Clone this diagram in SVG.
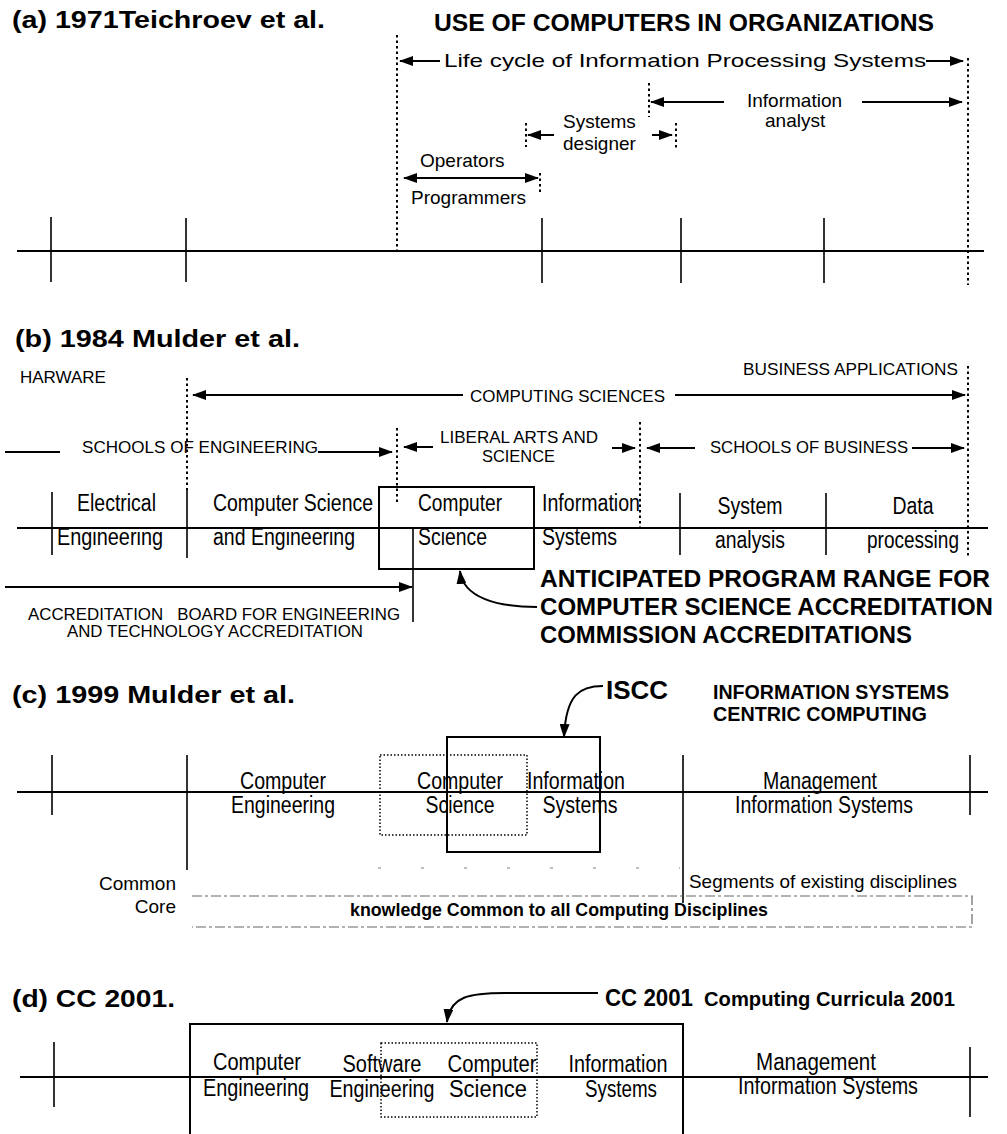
<svg xmlns="http://www.w3.org/2000/svg" width="1007" height="1134" viewBox="0 0 1007 1134">
<defs>
<marker id="ah" markerUnits="userSpaceOnUse" markerWidth="14" markerHeight="10" refX="13" refY="5" orient="auto-start-reverse"><path d="M0,0 L14,5 L0,10 z" fill="#000"/></marker>
<style>
.ttl{font-family:"Liberation Sans",Arial,sans-serif;font-weight:bold;font-size:24px;fill:#000}
.hd{font-family:"Liberation Sans",Arial,sans-serif;font-weight:bold;fill:#000}
.la{font-family:"Liberation Sans",Arial,sans-serif;font-size:19px;fill:#000}
.cp{font-family:"Liberation Sans",Arial,sans-serif;font-size:17px;fill:#000}
.lb{font-family:"Liberation Sans Narrow","Liberation Sans",Arial,sans-serif;font-size:23px;fill:#000}
.c{text-anchor:middle}
.r{text-anchor:end}
.ax{stroke:#000;stroke-width:2;fill:none}
.tk{stroke:#000;stroke-width:1.6;fill:none}
.dt{stroke:#000;stroke-width:2;stroke-dasharray:2.5 3;fill:none}
.db{stroke:#000;stroke-width:1.5;stroke-dasharray:1.5 2;fill:none}
.ar{stroke:#000;stroke-width:2;fill:none}
.bx{stroke:#000;stroke-width:2;fill:none}
.dsh{stroke:#666;stroke-width:1.2;stroke-dasharray:10 3 3 3;fill:none}
.fnt{stroke:#aaa;stroke-width:1.5;stroke-dasharray:3 40;fill:none}
</style>
</defs>
<rect width="1007" height="1134" fill="#fff"/>

<!-- ===== (a) ===== -->
<g id="sec-a">
<text class="ttl" x="12" y="28" textLength="313" lengthAdjust="spacingAndGlyphs">(a) 1971Teichroev et al.</text>
<text class="hd" x="434" y="31" font-size="23" textLength="500" lengthAdjust="spacingAndGlyphs">USE OF COMPUTERS IN ORGANIZATIONS</text>
<g id="a-axis">
<line class="ax" x1="17" y1="251" x2="984" y2="251"/>
<line class="tk" x1="51" y1="217" x2="51" y2="282"/>
<line class="tk" x1="186" y1="218" x2="186" y2="282"/>
<line class="tk" x1="542" y1="218" x2="542" y2="283"/>
<line class="tk" x1="681" y1="218" x2="681" y2="283"/>
<line class="tk" x1="824" y1="218" x2="824" y2="283"/>
<line class="dt" x1="397" y1="35" x2="397" y2="251"/>
<line class="dt" x1="968" y1="58" x2="968" y2="285"/>
</g>
<g id="a-lifecycle"><text class="la" x="444" y="67" font-size="21" textLength="482" lengthAdjust="spacingAndGlyphs">Life cycle of Information Processing Systems</text></g>
<g id="a-analyst"><text class="la" x="747" y="107">Information</text><text class="la" x="765" y="127">analyst</text>
<line class="dt" x1="649" y1="83" x2="649" y2="117"/></g>
<g id="a-designer"><text class="la" x="563" y="128">Systems</text><text class="la" x="563" y="150">designer</text>
<line class="dt" x1="526" y1="123" x2="526" y2="147"/><line class="dt" x1="676" y1="123" x2="676" y2="148"/></g>
<g id="a-operators"><text class="la" x="420" y="167">Operators</text><text class="la" x="411" y="204">Programmers</text>
<line class="dt" x1="540" y1="173" x2="540" y2="195"/></g>
</g>

<!-- ===== (b) ===== -->
<g id="sec-b">
<text class="ttl" x="15" y="347" textLength="285" lengthAdjust="spacingAndGlyphs">(b) 1984 Mulder et al.</text>
<text class="cp" x="20" y="383" font-size="16">HARWARE</text>
<text class="cp" x="743" y="375" textLength="215" lengthAdjust="spacingAndGlyphs">BUSINESS APPLICATIONS</text>
<g id="b-computing"><text class="cp" x="470" y="402" textLength="195" lengthAdjust="spacingAndGlyphs">COMPUTING SCIENCES</text></g>
<g id="b-eng"><text class="cp" x="82" y="453" textLength="236" lengthAdjust="spacingAndGlyphs">SCHOOLS OF ENGINEERING</text></g>
<g id="b-liberal"><text class="cp" x="440" y="443" textLength="158" lengthAdjust="spacingAndGlyphs">LIBERAL ARTS AND</text><text class="cp" x="482" y="462" textLength="73" lengthAdjust="spacingAndGlyphs">SCIENCE</text></g>
<g id="b-business"><text class="cp" x="710" y="453" textLength="198" lengthAdjust="spacingAndGlyphs">SCHOOLS OF BUSINESS</text></g>
<g id="b-axis">
<line class="ax" x1="17" y1="528" x2="988" y2="528"/>
<line class="tk" x1="52" y1="492" x2="52" y2="555"/>
<line class="tk" x1="187" y1="490" x2="187" y2="558"/>
<line class="tk" x1="680" y1="493" x2="680" y2="555"/>
<line class="tk" x1="826" y1="493" x2="826" y2="555"/>
<line class="dt" x1="187" y1="378" x2="187" y2="490"/>
<line class="dt" x1="397" y1="428" x2="397" y2="505"/>
<line class="dt" x1="640" y1="422" x2="640" y2="527"/>
<line class="dt" x1="968" y1="366" x2="968" y2="556"/>
</g>
<g id="b-ee"><text class="lb" x="77" y="511" textLength="79" lengthAdjust="spacingAndGlyphs">Electrical</text><text class="lb" x="57" y="545" textLength="106" lengthAdjust="spacingAndGlyphs">Engineering</text></g>
<g id="b-cse"><text class="lb" x="213" y="511" textLength="160" lengthAdjust="spacingAndGlyphs">Computer Science</text><text class="lb" x="213" y="545" textLength="142" lengthAdjust="spacingAndGlyphs">and Engineering</text></g>
<g id="b-cs"><rect class="bx" x="379" y="487" width="155" height="82"/><text class="lb" x="418" y="511" textLength="84" lengthAdjust="spacingAndGlyphs">Computer</text><text class="lb" x="418" y="545" textLength="69" lengthAdjust="spacingAndGlyphs">Science</text></g>
<g id="b-is"><text class="lb" x="542" y="511" textLength="98" lengthAdjust="spacingAndGlyphs">Information</text><text class="lb" x="542" y="545" textLength="75" lengthAdjust="spacingAndGlyphs">Systems</text></g>
<g id="b-sa"><text class="lb c" x="750" y="514" textLength="65" lengthAdjust="spacingAndGlyphs">System</text><text class="lb c" x="750" y="548" textLength="70" lengthAdjust="spacingAndGlyphs">analysis</text></g>
<g id="b-dp"><text class="lb c" x="913" y="514" textLength="41" lengthAdjust="spacingAndGlyphs">Data</text><text class="lb c" x="913" y="548" textLength="92" lengthAdjust="spacingAndGlyphs">processing</text></g>
<g id="b-abet"><line class="tk" x1="413" y1="528" x2="413" y2="622"/>
<text class="cp" x="28" y="620" textLength="372" lengthAdjust="spacingAndGlyphs" style="white-space:pre">ACCREDITATION   BOARD FOR ENGINEERING</text>
<text class="cp" x="67" y="637" textLength="296" lengthAdjust="spacingAndGlyphs">AND TECHNOLOGY ACCREDITATION</text></g>
<g id="b-csac"><text class="hd" x="540" y="587" font-size="24" textLength="450" lengthAdjust="spacingAndGlyphs">ANTICIPATED PROGRAM RANGE FOR</text>
<text class="hd" x="540" y="615" font-size="24" textLength="453" lengthAdjust="spacingAndGlyphs">COMPUTER SCIENCE ACCREDITATION</text>
<text class="hd" x="540" y="643" font-size="24" textLength="372" lengthAdjust="spacingAndGlyphs">COMMISSION ACCREDITATIONS</text></g>
</g>

<!-- ===== (c) ===== -->
<g id="sec-c">
<text class="ttl" x="12" y="703" textLength="283" lengthAdjust="spacingAndGlyphs">(c) 1999 Mulder et al.</text>
<g id="c-iscc"><text class="hd" x="606" y="699" font-size="25" textLength="62" lengthAdjust="spacingAndGlyphs">ISCC</text></g>
<g id="c-iscc-title"><text class="hd" x="713" y="699" font-size="20" textLength="236" lengthAdjust="spacingAndGlyphs">INFORMATION SYSTEMS</text>
<text class="hd" x="713" y="721" font-size="20" textLength="214" lengthAdjust="spacingAndGlyphs">CENTRIC COMPUTING</text></g>
<g id="c-axis">
<line class="ax" x1="17" y1="792" x2="988" y2="792"/>
<line class="tk" x1="52" y1="755" x2="52" y2="815"/>
<line class="tk" x1="187" y1="755" x2="187" y2="870"/>
<line class="tk" x1="683" y1="755" x2="683" y2="903"/>
<line class="tk" x1="970" y1="755" x2="970" y2="815"/>
<line class="fnt" x1="378" y1="868" x2="680" y2="868"/>
</g>
<g id="c-ce"><text class="lb c" x="283" y="789" textLength="86" lengthAdjust="spacingAndGlyphs">Computer</text><text class="lb c" x="283" y="813" textLength="104" lengthAdjust="spacingAndGlyphs">Engineering</text></g>
<g id="c-cs"><rect class="db" x="380" y="755" width="147" height="80"/><text class="lb c" x="460" y="789" textLength="86" lengthAdjust="spacingAndGlyphs">Computer</text><text class="lb c" x="460" y="813" textLength="69" lengthAdjust="spacingAndGlyphs">Science</text></g>
<g id="c-isbox"><rect class="bx" x="447" y="737" width="153" height="115"/></g>
<g id="c-is"><text class="lb c" x="576" y="789" textLength="98" lengthAdjust="spacingAndGlyphs">Information</text><text class="lb c" x="580" y="813" textLength="75" lengthAdjust="spacingAndGlyphs">Systems</text></g>
<g id="c-mis"><text class="lb c" x="820" y="789" textLength="114" lengthAdjust="spacingAndGlyphs">Management</text><text class="lb c" x="824" y="813" textLength="178" lengthAdjust="spacingAndGlyphs">Information Systems</text></g>
<g id="c-seg"><text class="la" x="689" y="888" textLength="268" lengthAdjust="spacingAndGlyphs">Segments of existing disciplines</text></g>
<g id="c-core"><text class="la r" x="176" y="890" font-size="18">Common</text><text class="la r" x="176" y="913" font-size="18">Core</text>
<path class="dsh" d="M192 896 H972 V927 H192"/>
<text class="hd" x="350" y="916" font-size="18" textLength="418" lengthAdjust="spacingAndGlyphs">knowledge Common to all Computing Disciplines</text></g>
</g>

<!-- ===== (d) ===== -->
<g id="sec-d">
<text class="ttl" x="12" y="1007" textLength="163" lengthAdjust="spacingAndGlyphs">(d) CC 2001.</text>
<g id="d-cc"><text class="hd" x="605" y="1006" font-size="24" textLength="88" lengthAdjust="spacingAndGlyphs">CC 2001</text>
<text class="hd" x="704" y="1006" font-size="20" textLength="251" lengthAdjust="spacingAndGlyphs">Computing Curricula 2001</text></g>
<g id="d-box"><path class="bx" d="M190 1134 V1024 H683 V1134"/></g>
<g id="d-axis">
<line class="ax" x1="20" y1="1077" x2="988" y2="1077"/>
<line class="tk" x1="54" y1="1042" x2="54" y2="1107"/>
<line class="tk" x1="970" y1="1047" x2="970" y2="1117"/>
</g>
<g id="d-ce"><text class="lb c" x="257" y="1070" textLength="88" lengthAdjust="spacingAndGlyphs">Computer</text><text class="lb c" x="256" y="1096" textLength="106" lengthAdjust="spacingAndGlyphs">Engineering</text></g>
<g id="d-se"><text class="lb c" x="382" y="1072" textLength="79" lengthAdjust="spacingAndGlyphs">Software</text><text class="lb c" x="382" y="1097" textLength="105" lengthAdjust="spacingAndGlyphs">Engineering</text></g>
<g id="d-cs"><rect class="db" x="381" y="1043" width="156" height="74"/><text class="lb c" x="492" y="1072" textLength="89" lengthAdjust="spacingAndGlyphs">Computer</text><text class="lb c" x="488" y="1097" textLength="78" lengthAdjust="spacingAndGlyphs">Science</text></g>
<g id="d-is"><text class="lb c" x="618" y="1072" textLength="99" lengthAdjust="spacingAndGlyphs">Information</text><text class="lb c" x="621" y="1097" textLength="72" lengthAdjust="spacingAndGlyphs">Systems</text></g>
<g id="d-mis"><text class="lb c" x="816" y="1070" textLength="120" lengthAdjust="spacingAndGlyphs">Management</text><text class="lb c" x="828" y="1094" textLength="180" lengthAdjust="spacingAndGlyphs">Information Systems</text></g>
</g>

<!-- ===== connectors ===== -->
<g id="connectors">
<line class="ar" x1="440" y1="61" x2="400" y2="61" marker-end="url(#ah)"/>
<line class="ar" x1="926" y1="61" x2="963" y2="61" marker-end="url(#ah)"/>
<line class="ar" x1="724" y1="102" x2="651" y2="102" marker-end="url(#ah)"/>
<line class="ar" x1="862" y1="102" x2="962" y2="102" marker-end="url(#ah)"/>
<line class="ar" x1="554" y1="135" x2="528" y2="135" marker-end="url(#ah)"/>
<line class="ar" x1="652" y1="135" x2="672" y2="135" marker-end="url(#ah)"/>
<line class="ar" x1="404" y1="178" x2="538" y2="178" marker-start="url(#ah)" marker-end="url(#ah)"/>
<line class="ar" x1="463" y1="395" x2="193" y2="395" marker-end="url(#ah)"/>
<line class="ar" x1="675" y1="395" x2="965" y2="395" marker-end="url(#ah)"/>
<line class="ar" x1="5" y1="452" x2="60" y2="452"/>
<line class="ar" x1="318" y1="452" x2="392" y2="452" marker-end="url(#ah)"/>
<line class="ar" x1="433" y1="447" x2="404" y2="447" marker-end="url(#ah)"/>
<line class="ar" x1="612" y1="448" x2="635" y2="448" marker-end="url(#ah)"/>
<line class="ar" x1="695" y1="448" x2="647" y2="448" marker-end="url(#ah)"/>
<line class="ar" x1="912" y1="448" x2="964" y2="448" marker-end="url(#ah)"/>
<line class="ar" x1="5" y1="587" x2="412" y2="587" marker-end="url(#ah)"/>
<path class="ar" d="M537 607 C498 607 463 598 460 571" marker-end="url(#ah)"/>
<path class="ar" d="M603 686 C580 686 566 694 564 737" marker-end="url(#ah)"/>
<path class="ar" d="M598 993 L505 993 C470 993 450 996 447 1022" marker-end="url(#ah)"/>
</g>
</svg>
